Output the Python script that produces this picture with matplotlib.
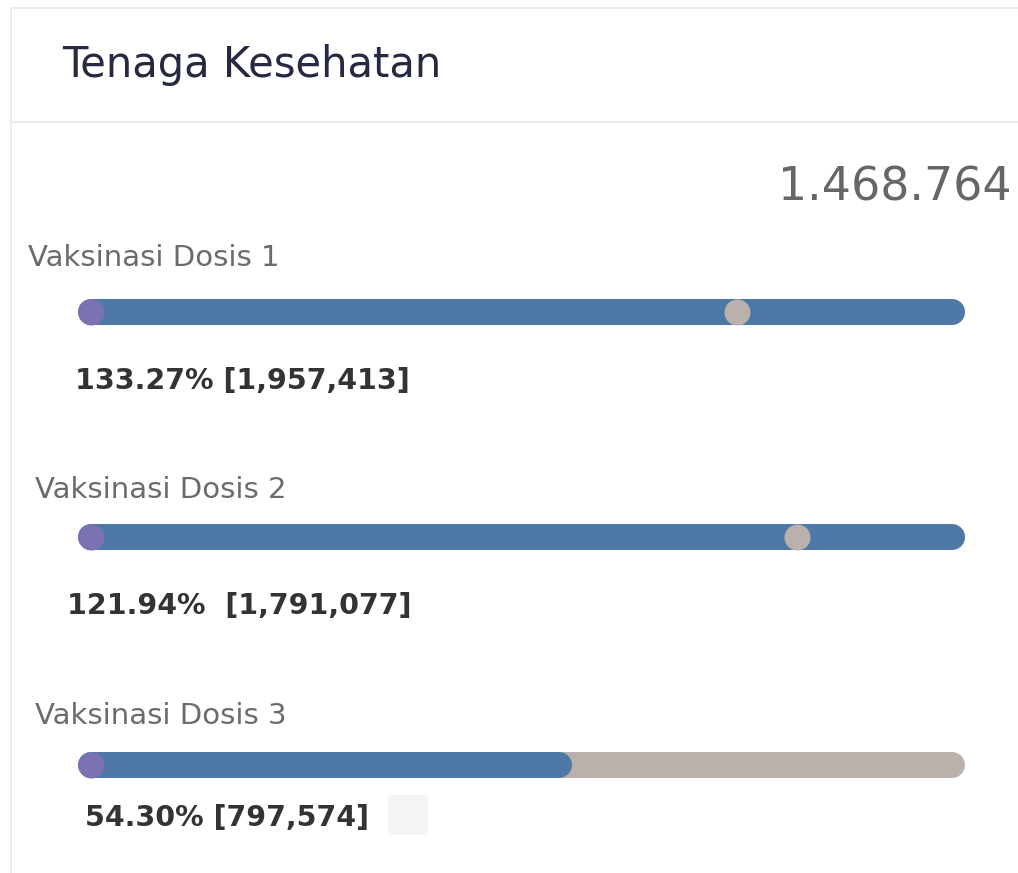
import matplotlib
matplotlib.use('Agg')
import matplotlib.pyplot as plt
from matplotlib.patches import Rectangle

# --- datos
titulo = 'Tenaga Kesehatan'
sasaran = 1468764          # total sasaran (arriba a la derecha)
labels = ['Vaksinasi Dosis 1', 'Vaksinasi Dosis 2', 'Vaksinasi Dosis 3']
persen = [133.27, 121.94, 54.30]
jumlah = [1957413, 1791077, 797574]
target = 100.0

# --- estilo
W, H = 1018, 873
BLUE = '#4e79a7'
GREY = '#bab0ac'
PURPLE = '#7b72b4'
bar_y = [312, 537, 765]      # centro de cada barra (px)
lab_pos = [(28, 258), (35, 490), (35, 716)]
val_pos = [(75, 381), (67, 606), (85, 818)]
sep = [' ', '  ', ' ']
x0, x1 = 91, 952             # centros de las tapas redondas
lw = 26 * 0.72               # 26 px de grosor

fig = plt.figure(figsize=(W / 100, H / 100), dpi=100)
fig.patch.set_facecolor('white')

# capa de fondo en pixeles
bg = fig.add_axes([0, 0, 1, 1])
bg.set_xlim(0, W)
bg.set_ylim(H, 0)
bg.axis('off')
bg.add_patch(Rectangle((11, 8), W + 20, H + 20, facecolor='white',
                       edgecolor='#ebebef', lw=1.5))
bg.plot([11, W], [122, 122], color='#ebebef', lw=1.5)
bg.add_patch(Rectangle((388, 795), 40, 40, facecolor='#f4f4f4', edgecolor='none'))

bg.text(62, 65, titulo, fontsize=30, family='DejaVu Sans', color='#262a40',
        va='center', ha='left')
bg.text(1012, 188, f'{sasaran:,}'.replace(',', '.'), fontsize=33,
        family='DejaVu Sans', color='#666666', va='center', ha='right')

for i in range(3):
    p = persen[i]
    bg.text(lab_pos[i][0], lab_pos[i][1], labels[i], fontsize=21,
            family='DejaVu Sans', color='#6b6b6b', va='center', ha='left')
    bg.text(val_pos[i][0], val_pos[i][1], f'{p:.2f}%{sep[i]}[{jumlah[i]:,}]',
            fontsize=20.5, family='DejaVu Sans', weight='bold', color='#333333',
            va='center', ha='left')

    yc = bar_y[i]
    ax = fig.add_axes([x0 / W, 1 - (yc + 20) / H, (x1 - x0) / W, 40 / H])
    xmax = max(p, target)
    ax.set_xlim(0, xmax)
    ax.set_ylim(-1, 1)
    ax.axis('off')
    ax.plot([0, xmax], [0, 0], color=GREY, lw=lw, solid_capstyle='round', clip_on=False)
    ax.plot([0, min(p, xmax)], [0, 0], color=BLUE, lw=lw, solid_capstyle='round', clip_on=False)
    ax.plot([0], [0], 'o', color=PURPLE, ms=lw, mew=0, clip_on=False)
    if p > target:
        ax.plot([target], [0], 'o', color=GREY, ms=lw, mew=0, clip_on=False)

fig.savefig('out.png', dpi=100)
